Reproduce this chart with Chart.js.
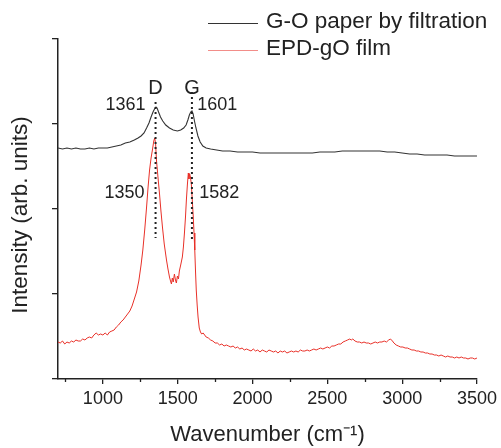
<!DOCTYPE html>
<html>
<head>
<meta charset="utf-8">
<script src="https://cdn.jsdelivr.net/npm/chart.js@4.4.1/dist/chart.umd.min.js"></script>
<style>
  html, body { margin: 0; padding: 0; background: #fff; }
</style>
</head>
<body>
<canvas id="ramanChart" width="501" height="448"></canvas>
<script>
// G-O paper by filtration  [wavenumber, intensity]
var goPaper = [
  [700,231],[730,230],[760,231],[790,230],[820,231],[850,230],[880,230],[910,231],[940,230],[970,231],
  [1000,231],[1030,231],[1060,232],[1090,233],[1120,234],[1150,236],[1180,237],[1210,239],[1235,241],
  [1255,243],[1275,246],[1292,251],[1308,256],[1322,262],[1335,267],[1345,270],[1355,272],[1362,271],
  [1372,267],[1385,262],[1400,258],[1420,254],[1445,251],[1470,249],[1498,248],[1520,249],[1540,251],
  [1556,254],[1568,259],[1578,264],[1587,267],[1595,268],[1603,265],[1612,258],[1622,251],[1635,243],
  [1650,237],[1668,233],[1690,231],[1720,230],[1760,229],[1800,228],[1850,228],[1900,227],[1950,227],
  [2000,227],[2050,226],[2100,226],[2150,226],[2200,226],[2250,226],[2300,226],[2350,226],[2400,226],
  [2450,227],[2500,227],[2550,227],[2600,228],[2650,228],[2700,228],[2750,228],[2800,228],[2850,228],
  [2900,227],[2950,227],[3000,226],[3050,225],[3100,225],[3150,224],[3200,224],[3250,224],[3300,224],
  [3350,223],[3400,223],[3450,223],[3500,223]
];

// EPD-gO film  [wavenumber, intensity]
var epdFilm = [
  [700,37],[715,36],[730,38],[745,35],[760,37],[775,36],[790,38],[805,37],[820,39],[835,38],[850,38],
  [865,40],[880,39],[895,41],[910,42],[925,41],[940,44],[955,46],[970,44],[985,45],[1000,44],[1015,46],
  [1030,44],[1045,47],[1060,48],[1075,49],[1090,52],[1105,54],[1120,57],[1135,59],[1150,62],[1165,65],
  [1180,68],[1195,73],[1210,80],[1225,87],[1240,98],[1255,114],[1267,129],[1280,150],[1292,172],
  [1302,192],[1312,209],[1322,221],[1332,230],[1340,238],[1346,241],[1352,236],[1358,219],[1368,202],
  [1378,186],[1388,168],[1398,152],[1410,135],[1425,119],[1435,110],[1445,102],[1452,98],[1458,95],
  [1464,101],[1470,97],[1478,105],[1485,99],[1491,96],[1498,103],[1505,100],[1511,108],[1520,114],
  [1531,122],[1538,132],[1545,146],[1552,162],[1558,179],[1565,195],[1571,206],[1575,200],[1580,205],
  [1585,202],[1591,195],[1597,180],[1604,162],[1609,146],[1614,129],[1619,108],[1624,89],[1630,74],
  [1636,62],[1644,51],[1652,47],[1660,45],[1670,46],[1680,44],[1690,42],[1705,41],[1720,39],[1735,38],
  [1750,36],[1765,36],[1780,34],[1795,35],[1810,33],[1825,34],[1840,33],[1855,32],[1870,33],[1885,31],
  [1900,32],[1915,30],[1930,31],[1945,29],[1960,30],[1975,29],[1990,28],[2005,30],[2020,28],[2035,29],
  [2050,27],[2065,29],[2080,28],[2095,27],[2110,29],[2125,28],[2140,27],[2155,28],[2170,26],[2185,28],
  [2200,27],[2215,28],[2230,26],[2245,27],[2260,28],[2275,27],[2290,28],[2305,27],[2320,29],[2335,28],
  [2350,28],[2365,29],[2380,28],[2395,29],[2410,30],[2425,29],[2440,30],[2455,31],[2470,30],[2485,31],
  [2500,32],[2515,31],[2530,33],[2545,33],[2560,34],[2575,35],[2590,35],[2605,37],[2620,38],[2635,39],
  [2650,40],[2660,39],[2670,40],[2685,38],[2700,37],[2715,37],[2730,36],[2745,37],[2760,36],[2775,36],
  [2790,35],[2805,36],[2820,37],[2835,36],[2850,37],[2865,37],[2880,38],[2895,37],[2910,39],[2922,40],
  [2935,38],[2945,36],[2960,34],[2975,33],[2990,32],[3005,32],[3020,31],[3035,31],[3050,30],[3065,29],
  [3080,29],[3095,28],[3110,28],[3125,27],[3140,27],[3155,26],[3170,26],[3185,25],[3200,25],[3215,24],
  [3230,24],[3245,23],[3260,24],[3275,23],[3290,22],[3305,23],[3320,22],[3335,22],[3350,21],[3365,22],
  [3380,21],[3395,22],[3410,21],[3425,21],[3440,20],[3455,21],[3470,21],[3485,20],[3500,21]
];

// dotted peak markers
var dLine = [[1352,277],[1352,141]];
var gLine = [[1595,287],[1595,139]];

var xTicks = [1000,1500,2000,2500,3000,3500];
var xMinorTicks = [750,1250,1750,2250,2750,3250];
var yTicks = [0,85,170,255,340];

// peak annotations: text, wavenumber, intensity, align
var peakLabels = [
  {text:"D",    x:1352, y:291, align:"center", size:20},
  {text:"G",    x:1595, y:291, align:"center", size:20},
  {text:"1361", x:1285, y:274, align:"right",  size:18},
  {text:"1601", x:1631, y:274, align:"left",   size:18},
  {text:"1350", x:1278, y:186, align:"right",  size:18},
  {text:"1582", x:1644, y:186, align:"left",   size:18}
];

var seriesNames = ["G-O paper by filtration", "EPD-gO film"];
var seriesColors = ["#333333", "rgb(232,48,40)"];

var ink = "#222";
var fam = "'Liberation Sans', Arial, sans-serif";
Chart.defaults.font.family = fam;
Chart.defaults.color = ink;

function toXY(arr) {
  return arr.map(function (p) { return {x: p[0], y: p[1]}; });
}

var extras = {
  id: "extras",
  afterDraw: function (chart) {
    var ctx = chart.ctx;
    var xs = chart.scales.x, ys = chart.scales.y;
    ctx.save();
    // minor ticks on x axis
    ctx.strokeStyle = ink;
    ctx.lineWidth = 1.3;
    xMinorTicks.forEach(function (v) {
      var px = Math.round(xs.getPixelForValue(v)) + 0.5;
      ctx.beginPath();
      ctx.moveTo(px, ys.bottom);
      ctx.lineTo(px, ys.bottom + 3);
      ctx.stroke();
    });
    // peak labels
    ctx.fillStyle = ink;
    ctx.textBaseline = "middle";
    peakLabels.forEach(function (l) {
      ctx.font = l.size + "px " + fam;
      ctx.textAlign = l.align;
      ctx.fillText(l.text, xs.getPixelForValue(l.x), ys.getPixelForValue(l.y));
    });
    // y axis title
    ctx.save();
    ctx.translate(21, 215);
    ctx.rotate(-Math.PI / 2);
    ctx.textAlign = "center";
    ctx.font = "22.5px " + fam;
    ctx.fillText("Intensity (arb. units)", 0, 0);
    ctx.restore();
    // legend
    ctx.font = "22.5px " + fam;
    ctx.textAlign = "left";
    var rows = [22, 49];
    seriesNames.forEach(function (name, i) {
      ctx.strokeStyle = i === 0 ? seriesColors[0] : "rgba(232,48,40,0.55)";
      ctx.lineWidth = 1;
      ctx.beginPath();
      ctx.moveTo(208, rows[i] + 1.5);
      ctx.lineTo(258, rows[i] + 1.5);
      ctx.stroke();
      ctx.fillStyle = ink;
      ctx.fillText(name, 266, rows[i]);
    });
    ctx.restore();
  }
};

new Chart(document.getElementById("ramanChart"), {
  type: "scatter",
  data: {
    datasets: [
      {data: toXY(dLine), showLine: true, borderColor: ink, borderWidth: 2, borderDash: [2, 3], pointRadius: 0},
      {data: toXY(gLine), showLine: true, borderColor: ink, borderWidth: 2, borderDash: [2, 3], pointRadius: 0},
      {label: seriesNames[0], data: toXY(goPaper), showLine: true, borderColor: seriesColors[0], borderWidth: 1.1, pointRadius: 0, tension: 0},
      {label: seriesNames[1], data: toXY(epdFilm), showLine: true, borderColor: seriesColors[1], borderWidth: 1, pointRadius: 0, tension: 0}
    ]
  },
  options: {
    responsive: false,
    animation: false,
    layout: {padding: {top: 39, right: 23, left: 0, bottom: 0}},
    plugins: {legend: {display: false}, tooltip: {enabled: false}},
    scales: {
      x: {
        type: "linear", min: 700, max: 3500,
        afterBuildTicks: function (s) { s.ticks = xTicks.map(function (v) { return {value: v}; }); },
        afterFit: function (s) { s.height = 69; },
        grid: {drawOnChartArea: false, drawTicks: true, tickLength: 5, color: ink, lineWidth: 1.3},
        border: {display: true, color: ink, width: 1.5},
        ticks: {font: {size: 18}, color: ink, padding: 4, maxRotation: 0,
                callback: function (v) { return String(v); }},
        title: {display: true, text: "Wavenumber (cm\u207B\u00B9)", font: {size: 22}, color: ink, padding: {top: 0, bottom: 0}}
      },
      y: {
        type: "linear", min: 0, max: 340,
        afterBuildTicks: function (s) { s.ticks = yTicks.map(function (v) { return {value: v}; }); },
        afterFit: function (s) { s.width = 58; },
        grid: {drawOnChartArea: false, drawTicks: true, tickLength: 6, color: ink, lineWidth: 1.3},
        border: {display: true, color: ink, width: 1.5},
        ticks: {display: false},
        title: {display: false}
      }
    }
  },
  plugins: [extras]
});
</script>
</body>
</html>
